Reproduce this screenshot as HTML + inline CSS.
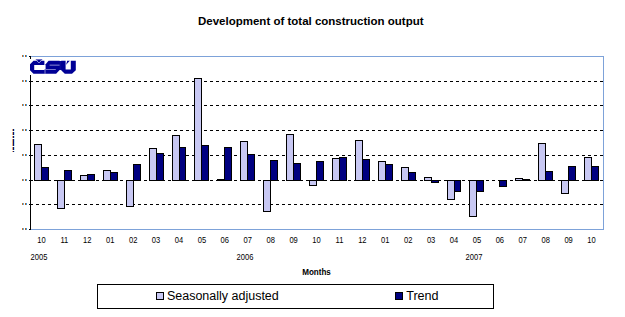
<!DOCTYPE html>
<html><head><meta charset="utf-8"><style>
html,body{margin:0;padding:0;background:#fff;width:625px;height:317px;overflow:hidden}
svg{position:absolute;left:0;top:0;font-family:"Liberation Sans",sans-serif}
</style></head><body>
<svg width="625" height="317" viewBox="0 0 625 317">
<text x="198" y="25" font-size="11.5" font-weight="bold" fill="#000">Development of total construction output</text>
<g shape-rendering="crispEdges">
<rect x="30.5" y="56.5" width="573" height="173" fill="none" stroke="#7da2d9" stroke-width="1"/>
<line x1="36" y1="81.5" x2="603" y2="81.5" stroke="#000" stroke-width="1" stroke-dasharray="3 3"/><line x1="36" y1="105.5" x2="603" y2="105.5" stroke="#000" stroke-width="1" stroke-dasharray="3 3"/><line x1="36" y1="130.5" x2="603" y2="130.5" stroke="#000" stroke-width="1" stroke-dasharray="3 3"/><line x1="36" y1="155.5" x2="603" y2="155.5" stroke="#000" stroke-width="1" stroke-dasharray="3 3"/><line x1="36" y1="180.5" x2="603" y2="180.5" stroke="#000" stroke-width="1" stroke-dasharray="3 3"/><line x1="36" y1="204.5" x2="603" y2="204.5" stroke="#000" stroke-width="1" stroke-dasharray="3 3"/>
<line x1="30.5" y1="56" x2="30.5" y2="230" stroke="#000" stroke-width="1"/><line x1="29" y1="56.5" x2="31" y2="56.5" stroke="#000" stroke-width="1"/><line x1="29" y1="229.5" x2="31" y2="229.5" stroke="#000" stroke-width="1"/><line x1="29" y1="81.5" x2="33" y2="81.5" stroke="#000" stroke-width="1"/><line x1="29" y1="105.5" x2="33" y2="105.5" stroke="#000" stroke-width="1"/><line x1="29" y1="130.5" x2="33" y2="130.5" stroke="#000" stroke-width="1"/><line x1="29" y1="155.5" x2="33" y2="155.5" stroke="#000" stroke-width="1"/><line x1="29" y1="180.5" x2="33" y2="180.5" stroke="#000" stroke-width="1"/><line x1="29" y1="204.5" x2="33" y2="204.5" stroke="#000" stroke-width="1"/>
<rect x="34.5" y="144.5" width="7" height="36" fill="#c8c8f3" stroke="#000" stroke-width="1"/><rect x="41.5" y="167.5" width="7" height="13" fill="#000080" stroke="#000" stroke-width="1"/><rect x="57.5" y="180.5" width="7" height="28" fill="#c8c8f3" stroke="#000" stroke-width="1"/><rect x="64.5" y="170.5" width="7" height="10" fill="#000080" stroke="#000" stroke-width="1"/><rect x="80.5" y="175.5" width="7" height="5" fill="#c8c8f3" stroke="#000" stroke-width="1"/><rect x="87.5" y="174.5" width="7" height="6" fill="#000080" stroke="#000" stroke-width="1"/><rect x="103.5" y="170.5" width="7" height="10" fill="#c8c8f3" stroke="#000" stroke-width="1"/><rect x="110.5" y="172.5" width="7" height="8" fill="#000080" stroke="#000" stroke-width="1"/><rect x="126.5" y="180.5" width="7" height="26" fill="#c8c8f3" stroke="#000" stroke-width="1"/><rect x="133.5" y="164.5" width="7" height="16" fill="#000080" stroke="#000" stroke-width="1"/><rect x="149.5" y="148.5" width="7" height="32" fill="#c8c8f3" stroke="#000" stroke-width="1"/><rect x="156.5" y="153.5" width="7" height="27" fill="#000080" stroke="#000" stroke-width="1"/><rect x="172.5" y="135.5" width="7" height="45" fill="#c8c8f3" stroke="#000" stroke-width="1"/><rect x="179.5" y="147.5" width="6" height="33" fill="#000080" stroke="#000" stroke-width="1"/><rect x="194.5" y="78.5" width="7" height="102" fill="#c8c8f3" stroke="#000" stroke-width="1"/><rect x="201.5" y="145.5" width="7" height="35" fill="#000080" stroke="#000" stroke-width="1"/><rect x="217.5" y="179.5" width="7" height="1" fill="#c8c8f3" stroke="#000" stroke-width="1"/><rect x="224.5" y="147.5" width="7" height="33" fill="#000080" stroke="#000" stroke-width="1"/><rect x="240.5" y="141.5" width="7" height="39" fill="#c8c8f3" stroke="#000" stroke-width="1"/><rect x="247.5" y="154.5" width="7" height="26" fill="#000080" stroke="#000" stroke-width="1"/><rect x="263.5" y="180.5" width="7" height="31" fill="#c8c8f3" stroke="#000" stroke-width="1"/><rect x="270.5" y="160.5" width="7" height="20" fill="#000080" stroke="#000" stroke-width="1"/><rect x="286.5" y="134.5" width="7" height="46" fill="#c8c8f3" stroke="#000" stroke-width="1"/><rect x="293.5" y="163.5" width="7" height="17" fill="#000080" stroke="#000" stroke-width="1"/><rect x="309.5" y="180.5" width="7" height="5" fill="#c8c8f3" stroke="#000" stroke-width="1"/><rect x="316.5" y="161.5" width="7" height="19" fill="#000080" stroke="#000" stroke-width="1"/><rect x="332.5" y="158.5" width="7" height="22" fill="#c8c8f3" stroke="#000" stroke-width="1"/><rect x="339.5" y="157.5" width="7" height="23" fill="#000080" stroke="#000" stroke-width="1"/><rect x="355.5" y="140.5" width="7" height="40" fill="#c8c8f3" stroke="#000" stroke-width="1"/><rect x="362.5" y="159.5" width="7" height="21" fill="#000080" stroke="#000" stroke-width="1"/><rect x="378.5" y="161.5" width="7" height="19" fill="#c8c8f3" stroke="#000" stroke-width="1"/><rect x="385.5" y="164.5" width="7" height="16" fill="#000080" stroke="#000" stroke-width="1"/><rect x="401.5" y="167.5" width="7" height="13" fill="#c8c8f3" stroke="#000" stroke-width="1"/><rect x="408.5" y="172.5" width="7" height="8" fill="#000080" stroke="#000" stroke-width="1"/><rect x="424.5" y="177.5" width="7" height="3" fill="#c8c8f3" stroke="#000" stroke-width="1"/><rect x="431.5" y="180.5" width="7" height="2" fill="#000080" stroke="#000" stroke-width="1"/><rect x="447.5" y="180.5" width="7" height="19" fill="#c8c8f3" stroke="#000" stroke-width="1"/><rect x="454.5" y="180.5" width="6" height="11" fill="#000080" stroke="#000" stroke-width="1"/><rect x="469.5" y="180.5" width="7" height="36" fill="#c8c8f3" stroke="#000" stroke-width="1"/><rect x="476.5" y="180.5" width="7" height="11" fill="#000080" stroke="#000" stroke-width="1"/><rect x="499.5" y="180.5" width="7" height="6" fill="#000080" stroke="#000" stroke-width="1"/><rect x="515.5" y="178.5" width="7" height="2" fill="#c8c8f3" stroke="#000" stroke-width="1"/><rect x="522.5" y="179.5" width="7" height="1" fill="#000080" stroke="#000" stroke-width="1"/><rect x="538.5" y="143.5" width="7" height="37" fill="#c8c8f3" stroke="#000" stroke-width="1"/><rect x="545.5" y="171.5" width="7" height="9" fill="#000080" stroke="#000" stroke-width="1"/><rect x="561.5" y="180.5" width="7" height="13" fill="#c8c8f3" stroke="#000" stroke-width="1"/><rect x="568.5" y="166.5" width="7" height="14" fill="#000080" stroke="#000" stroke-width="1"/><rect x="584.5" y="157.5" width="7" height="23" fill="#c8c8f3" stroke="#000" stroke-width="1"/><rect x="591.5" y="166.5" width="7" height="14" fill="#000080" stroke="#000" stroke-width="1"/>
</g>
<rect x="29" y="59" width="3" height="16" fill="#fff"/>
<rect x="59" y="61" width="3" height="9" fill="#0a0a9a"/>
<rect x="44" y="69.5" width="2" height="4.3" fill="#6a6ac4"/>
<g fill="#000096">
<polygon points="33.5,60.8 44.4,60.8 44.4,65 34.2,65 34.2,70 44.4,70 44.4,73.8 33.5,73.8 30,70.3 30,64.3"/>
<polygon points="48.6,60.8 59.6,60.8 59.6,70 56.1,73.8 45.6,73.8 45.6,64.2"/>
<polygon points="61.2,60.8 65.6,60.8 65.6,69.5 70.8,69.5 70.8,60.8 75.8,60.8 75.8,70.2 72,73.8 64.8,73.8 61.2,70.2"/>
<polygon points="67.2,60.8 69.8,60.8 66.1,64.7"/>
</g>

<polyline points="36.3,60.2 39,63 41.7,60.2" fill="none" stroke="#a8a8e4" stroke-width="0.9"/>
<rect x="35.8" y="59" width="6.4" height="1.1" fill="#6a6ac0"/>
<polygon points="36.9,59.9 41.1,59.9 39,62.4" fill="#000096"/>
<g fill="#7b7bcc">
<rect x="49.6" y="64.6" width="10" height="1.1"/>
<rect x="45.6" y="69" width="10.2" height="1"/>
</g>
<g shape-rendering="crispEdges"><rect x="22" y="55" width="1" height="2" fill="#c4742e"/><rect x="23" y="55" width="1" height="2" fill="#5aaae6"/><rect x="25" y="55" width="1" height="2" fill="#b8601a"/><rect x="26" y="55" width="1" height="2" fill="#3c9fe6"/><rect x="22" y="80" width="1" height="2" fill="#c4742e"/><rect x="23" y="80" width="1" height="2" fill="#5aaae6"/><rect x="25" y="80" width="1" height="2" fill="#b8601a"/><rect x="26" y="80" width="1" height="2" fill="#3c9fe6"/><rect x="22" y="104" width="1" height="2" fill="#c4742e"/><rect x="23" y="104" width="1" height="2" fill="#5aaae6"/><rect x="25" y="104" width="1" height="2" fill="#b8601a"/><rect x="26" y="104" width="1" height="2" fill="#3c9fe6"/><rect x="22" y="129" width="1" height="2" fill="#c4742e"/><rect x="23" y="129" width="1" height="2" fill="#5aaae6"/><rect x="25" y="129" width="1" height="2" fill="#b8601a"/><rect x="26" y="129" width="1" height="2" fill="#3c9fe6"/><rect x="22" y="154" width="1" height="2" fill="#c4742e"/><rect x="23" y="154" width="1" height="2" fill="#5aaae6"/><rect x="25" y="154" width="1" height="2" fill="#b8601a"/><rect x="26" y="154" width="1" height="2" fill="#3c9fe6"/><rect x="22" y="179" width="1" height="2" fill="#c4742e"/><rect x="23" y="179" width="1" height="2" fill="#5aaae6"/><rect x="25" y="179" width="1" height="2" fill="#b8601a"/><rect x="26" y="179" width="1" height="2" fill="#3c9fe6"/><rect x="22" y="203" width="1" height="2" fill="#c4742e"/><rect x="23" y="203" width="1" height="2" fill="#5aaae6"/><rect x="25" y="203" width="1" height="2" fill="#b8601a"/><rect x="26" y="203" width="1" height="2" fill="#3c9fe6"/><rect x="22" y="228" width="1" height="2" fill="#c4742e"/><rect x="23" y="228" width="1" height="2" fill="#5aaae6"/><rect x="25" y="228" width="1" height="2" fill="#b8601a"/><rect x="26" y="228" width="1" height="2" fill="#3c9fe6"/><rect x="12" y="129" width="1" height="2" fill="#e8b070"/><rect x="13" y="129" width="1" height="2" fill="#101070"/><rect x="14" y="129" width="1" height="2" fill="#b0e4f4"/><rect x="12" y="132" width="1" height="3" fill="#e8b070"/><rect x="13" y="132" width="1" height="3" fill="#101070"/><rect x="14" y="132" width="1" height="3" fill="#b0e4f4"/><rect x="12" y="136" width="1" height="2" fill="#e8b070"/><rect x="13" y="136" width="1" height="2" fill="#101070"/><rect x="14" y="136" width="1" height="2" fill="#b0e4f4"/><rect x="12" y="139" width="1" height="2" fill="#e8b070"/><rect x="13" y="139" width="1" height="2" fill="#101070"/><rect x="14" y="139" width="1" height="2" fill="#b0e4f4"/><rect x="12" y="141" width="1" height="5" fill="#e8b070"/><rect x="13" y="141" width="1" height="5" fill="#101070"/><rect x="14" y="141" width="1" height="5" fill="#b0e4f4"/><rect x="12" y="147" width="1" height="3" fill="#e8b070"/><rect x="13" y="147" width="1" height="3" fill="#101070"/><rect x="14" y="147" width="1" height="3" fill="#b0e4f4"/><rect x="12" y="151" width="1" height="1" fill="#e8b070"/><rect x="13" y="151" width="1" height="1" fill="#101070"/><rect x="14" y="151" width="1" height="1" fill="#b0e4f4"/></g>
<g font-size="8.4" fill="#000">
<text transform="translate(41.46,243) scale(0.9,1)" text-anchor="middle">10</text><text transform="translate(64.38,243) scale(0.9,1)" text-anchor="middle">11</text><text transform="translate(87.30,243) scale(0.9,1)" text-anchor="middle">12</text><text transform="translate(110.22,243) scale(0.9,1)" text-anchor="middle">01</text><text transform="translate(133.14,243) scale(0.9,1)" text-anchor="middle">02</text><text transform="translate(156.06,243) scale(0.9,1)" text-anchor="middle">03</text><text transform="translate(178.98,243) scale(0.9,1)" text-anchor="middle">04</text><text transform="translate(201.90,243) scale(0.9,1)" text-anchor="middle">05</text><text transform="translate(224.82,243) scale(0.9,1)" text-anchor="middle">06</text><text transform="translate(247.74,243) scale(0.9,1)" text-anchor="middle">07</text><text transform="translate(270.66,243) scale(0.9,1)" text-anchor="middle">08</text><text transform="translate(293.58,243) scale(0.9,1)" text-anchor="middle">09</text><text transform="translate(316.50,243) scale(0.9,1)" text-anchor="middle">10</text><text transform="translate(339.42,243) scale(0.9,1)" text-anchor="middle">11</text><text transform="translate(362.34,243) scale(0.9,1)" text-anchor="middle">12</text><text transform="translate(385.26,243) scale(0.9,1)" text-anchor="middle">01</text><text transform="translate(408.18,243) scale(0.9,1)" text-anchor="middle">02</text><text transform="translate(431.10,243) scale(0.9,1)" text-anchor="middle">03</text><text transform="translate(454.02,243) scale(0.9,1)" text-anchor="middle">04</text><text transform="translate(476.94,243) scale(0.9,1)" text-anchor="middle">05</text><text transform="translate(499.86,243) scale(0.9,1)" text-anchor="middle">06</text><text transform="translate(522.78,243) scale(0.9,1)" text-anchor="middle">07</text><text transform="translate(545.70,243) scale(0.9,1)" text-anchor="middle">08</text><text transform="translate(568.62,243) scale(0.9,1)" text-anchor="middle">09</text><text transform="translate(591.54,243) scale(0.9,1)" text-anchor="middle">10</text>
<text transform="translate(39,260) scale(0.9,1)" text-anchor="middle">2005</text>
<text transform="translate(245,260) scale(0.9,1)" text-anchor="middle">2006</text>
<text transform="translate(474,260) scale(0.9,1)" text-anchor="middle">2007</text>
<text transform="translate(316.5,275) scale(0.95,1)" text-anchor="middle" font-weight="bold" font-size="8.5">Months</text>
</g>
<g shape-rendering="crispEdges">
<rect x="97.5" y="284.5" width="396" height="24" fill="none" stroke="#000" stroke-width="1"/>
<rect x="156.5" y="292.5" width="7" height="7" fill="#c8c8f3" stroke="#000" stroke-width="1"/>
<rect x="395.5" y="292.5" width="7" height="7" fill="#000080" stroke="#000" stroke-width="1"/>
</g>
<g font-size="12.6" fill="#000">
<text x="166.9" y="300" font-size="12.5">Seasonally adjusted</text>
<text x="406.2" y="300">Trend</text>
</g>
</svg>
</body></html>
